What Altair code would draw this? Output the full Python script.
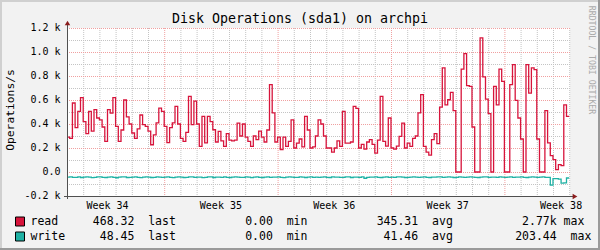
import altair as alt
import pandas as pd

# ---------------- data ----------------
# read ops/s, one value every 4 hours (6 per day) from the left edge
read_vals = [
    290, 280, 575, 370, 505, 620, 420, 320, 505, 340, 520, 450, 435, 375, 255, 520, 490, 620, 380, 255,
    350, 600, 460, 400, 325, 280, 360, 475, 395, 380, 340, 227, 310, 410, 533, 505, 380, 245, 370, 410,
    547, 400, 280, 255, 330, 630, 395, 590, 400, 213, 463, 243, 463, 420, 352, 250, 338, 260, 213, 320,
    265, 260, 265, 408, 300, 400, 290, 255, 213, 300, 270, 340, 290, 250, 350, 728, 493, 250, 290, 186,
    290, 213, 255, 435, 200, 240, 275, 210, 463, 350, 200, 210, 300, 435, 400, 300, 200, 200, 165, 200,
    260, 213, 505, 240, 240, 250, 547, 530, 200, 230, 190, 250, 270, 230, 158, 265, 630, 255, 215, 450,
    200, 190, 215, 297, 408, 200, 240, 213, 280, 300, 492, 644, 213, 165, 140, 270, 320, 236, 541, 867,
    560, 602, 663, 511, 0, 0, 858, 986, 719, 714, 375, 0, 0, 1117, 792, 608, 486, 0, 714, 560,
    858, 755, 0, 0, 728, 894, 597, 450, 275, 0, 894, 658, 867, 853, 275, 0, 0, 511, 242, 136,
    103, 20, 61, 53, 560, 463,
]
# write ops/s (drawn below zero), same time steps
write_vals = [
    42, 40, 45, 44, 41, 46, 43, 40, 42, 47, 44, 41, 40, 45, 46, 42, 41, 44, 48, 43,
    41, 40, 46, 44, 42, 41, 45, 47, 42, 40, 43, 46, 44, 41, 42, 45, 43, 40, 44, 47,
    43, 41, 42, 46, 44, 40, 41, 45, 43, 42, 47, 44, 41, 40, 46, 43, 42, 44, 41, 45,
    46, 42, 40, 43, 45, 44, 41, 42, 47, 43, 40, 44, 46, 42, 41, 45, 43, 42, 40, 44,
    47, 43, 41, 42, 45, 44, 40, 43, 46, 42, 41, 44, 43, 45, 42, 40, 44, 46, 41, 43,
    42, 45, 44, 40, 41, 46, 43, 42, 44, 41, 52, 45, 42, 43, 40, 44, 46, 42, 41, 45,
    43, 44, 41, 40, 42, 46, 44, 43, 41, 42, 45, 43, 40, 44, 46, 42, 43, 41, 40, 44,
    42, 41, 43, 46, 44, 40, 42, 45, 43, 41, 42, 44, 46, 43, 41, 40, 44, 42, 43, 45,
    41, 42, 44, 43, 40, 45, 42, 43, 41, 44, 46, 42, 40, 43, 44, 42, 41, 45,
    45, 110, 55, 55, 60, 92, 90, 50,
]
steps_per_day = 6
week_bounds = [6, 13, 20, 27]          # days from left edge where a new week starts
week_names = ["Week 34", "Week 35", "Week 36", "Week 37", "Week 38"]
y_ticks = [1200, 1000, 800, 600, 400, 200, 0, -200]
y_tick_labels = ["1.2 k", "1.0 k", "0.8 k", "0.6 k", "0.4 k", "0.2 k", "0.0\u00a0\u00a0", "-0.2 k"]
minor_h = [-100, 100, 300, 500, 700, 900, 1100]
major_h = [0, 200, 400, 600, 800, 1000, 1200]
n_days = 31
title_text = "Disk Operations (sda1) on archpi"
ylabel = "Operations/s"
watermark = "RRDTOOL / TOBI OETIKER"
legend_read = "read     468.32  last          0.00  min          345.31  avg          2.77k max"
legend_write = "write     48.45  last          0.00  min           41.46  avg         203.44  max"

# ---------------- tables ----------------
n = len(read_vals)
t = [i / steps_per_day for i in range(n)] + [n / steps_per_day]
df = pd.DataFrame({
    "t": t,
    "read": read_vals + [read_vals[-1]],
    "write": [-w for w in write_vals] + [-write_vals[-1]],
})
minor_v = [d for d in range(1, n_days + 1) if d not in week_bounds]
label_days = [d - 3.5 for d in week_bounds] + [week_bounds[-1] + 3.5]

W, H = 503, 168
PAD_L, PAD_T = 67, 28
FONT = "DejaVu Sans Mono"
RED = "#d7143b"
TEAL = "#1fb1a4"

xs = alt.Scale(domain=[0, 31.05], range=[0, W], nice=False, zero=False)
ys = alt.Scale(domain=[-200, 1200], range=[H, 0], nice=False, zero=False)
one = pd.DataFrame({"a": [0]})

def xq(field):
    return alt.X(field, type="quantitative", scale=xs, axis=None)

def yq(field):
    return alt.Y(field, type="quantitative", scale=ys, axis=None)

layers = []
# grid
layers.append(alt.Chart(pd.DataFrame({"v": minor_h})).mark_rule(
    color="#c4c4c4", strokeDash=[1, 1], strokeWidth=1, yOffset=0.5).encode(y=yq("v")))
layers.append(alt.Chart(pd.DataFrame({"d": minor_v})).mark_rule(
    color="#c4c4c4", strokeDash=[1, 1], strokeWidth=1, xOffset=0.5).encode(x=xq("d")))
layers.append(alt.Chart(pd.DataFrame({"v": major_h})).mark_rule(
    color="#f0a0a0", strokeDash=[1, 1], strokeWidth=1, yOffset=0.5).encode(y=yq("v")))
layers.append(alt.Chart(pd.DataFrame({"d": week_bounds})).mark_rule(
    color="#f0a0a0", strokeDash=[1, 1], strokeWidth=1, xOffset=0.5).encode(x=xq("d")))

# series
layers.append(alt.Chart(df).mark_line(interpolate="step-after", color=RED, strokeWidth=1.3).encode(
    x=xq("t"), y=yq("read")))
layers.append(alt.Chart(df).mark_line(interpolate="step-after", color=TEAL, strokeWidth=1.3).encode(
    x=xq("t"), y=yq("write")))

# axes lines and arrows
AX = "#505050"
layers.append(alt.Chart(one).mark_rule(color=AX, strokeWidth=1).encode(
    x=alt.value(0.5), y=alt.value(-5), y2=alt.value(H + 3)))
layers.append(alt.Chart(one).mark_rule(color=AX, strokeWidth=1).encode(
    y=alt.value(H + 0.5), x=alt.value(-3), x2=alt.value(W + 4)))
layers.append(alt.Chart(one).mark_point(shape="triangle-up", filled=True, color="#8b1c1c", size=30, opacity=1).encode(
    x=alt.value(0.5), y=alt.value(-5)))
layers.append(alt.Chart(one).mark_point(shape="triangle-right", filled=True, color="#8b1c1c", size=30, opacity=1).encode(
    x=alt.value(W + 5), y=alt.value(H + 0.5)))

# y tick labels
layers.append(alt.Chart(pd.DataFrame({"v": y_ticks, "lab": y_tick_labels})).mark_text(
    font=FONT, fontSize=10, align="right", baseline="middle", color="#000").encode(
    x=alt.value(-6.5), y=yq("v"), text="lab:N"))
# week labels
layers.append(alt.Chart(pd.DataFrame({"d": label_days, "lab": week_names})).mark_text(
    font=FONT, fontSize=10, align="center", baseline="middle", color="#000").encode(
    x=xq("d"), y=alt.value(H + 10), text="lab:N"))

# title, axis title, watermark
layers.append(alt.Chart(one).mark_text(font=FONT, fontSize=13.3, align="center", baseline="middle",
                                       color="#000", text=title_text).encode(
    x=alt.value(300 - PAD_L), y=alt.value(19 - PAD_T)))
layers.append(alt.Chart(one).mark_text(font=FONT, fontSize=11.3, align="center", baseline="middle",
                                       angle=270, color="#000", text=ylabel).encode(
    x=alt.value(11 - PAD_L), y=alt.value(110 - PAD_T)))
layers.append(alt.Chart(one).mark_text(font=FONT, fontSize=8.2, align="center", baseline="middle",
                                       angle=90, color="#aaaaaa", text=watermark).encode(
    x=alt.value(591 - PAD_L), y=alt.value(60 - PAD_T)))

# legend
for row, (txt, col) in enumerate([(legend_read, RED), (legend_write, TEAL)]):
    yc = 221.5 + 15 * row - PAD_T
    layers.append(alt.Chart(one).mark_rect(fill=col, stroke="#000", strokeWidth=1).encode(
        x=alt.value(15.5 - PAD_L), x2=alt.value(24.5 - PAD_L),
        y=alt.value(yc - 4.5), y2=alt.value(yc + 4.5)))
    layers.append(alt.Chart(one).mark_text(font=FONT, fontSize=11.5, align="left", baseline="middle",
                                           color="#000", text=txt.replace(" ", "\u00a0")).encode(
        x=alt.value(30.5 - PAD_L), y=alt.value(yc)))

# frame shading
layers.append(alt.Chart(one).mark_rule(color="#d0d0d0", strokeWidth=2).encode(
    x=alt.value(1 - PAD_L), y=alt.value(-PAD_T), y2=alt.value(250 - PAD_T)))
layers.append(alt.Chart(one).mark_rule(color="#d0d0d0", strokeWidth=2).encode(
    y=alt.value(1 - PAD_T), x=alt.value(-PAD_L), x2=alt.value(600 - PAD_L)))
layers.append(alt.Chart(one).mark_rule(color="#9a9a9a", strokeWidth=2).encode(
    x=alt.value(599 - PAD_L), y=alt.value(-PAD_T), y2=alt.value(250 - PAD_T)))
layers.append(alt.Chart(one).mark_rule(color="#9a9a9a", strokeWidth=2).encode(
    y=alt.value(249 - PAD_T), x=alt.value(-PAD_L), x2=alt.value(600 - PAD_L)))

chart = alt.layer(*layers).properties(
    width=W, height=H,
    autosize=alt.AutoSizeParams(type="none"),
    padding={"left": PAD_L, "top": PAD_T, "right": 600 - PAD_L - W, "bottom": 250 - PAD_T - H},
    background="#f2f2f2",
).configure_view(fill="white", stroke=None)

chart.save("out.html", embed_options={"renderer": "svg", "actions": False})
